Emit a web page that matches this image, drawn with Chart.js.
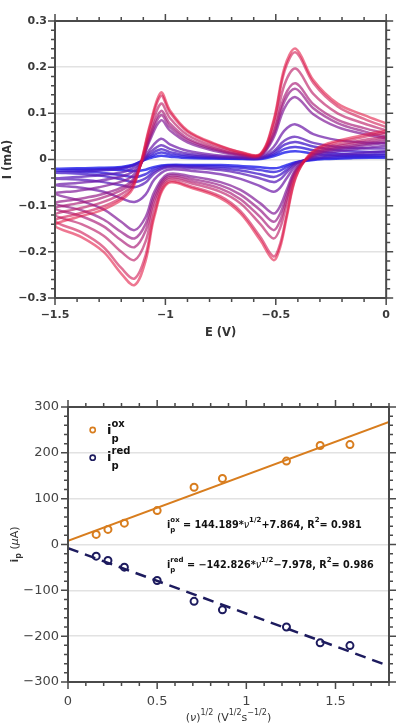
<!DOCTYPE html>
<html>
<head>
<meta charset="utf-8">
<script src="https://cdn.jsdelivr.net/npm/chart.js@4.4.0/dist/chart.umd.min.js"></script>
<style>
html, body { margin: 0; padding: 0; background: #fff; }
#wrap { position: relative; width: 401px; height: 728px; }
canvas { position: absolute; left: 0; }
#cv { top: 0; }
#fit { top: 365px; }
</style>
</head>
<body>
<div id="wrap">
  <canvas id="cv" width="401" height="365"></canvas>
  <canvas id="fit" width="401" height="363"></canvas>
</div>
<script>
// potential grid (V): cathodic sweep 0 -> -1.5, then anodic sweep back to 0
const E_FWD = [0, -0.15, -0.28, -0.35, -0.41, -0.45, -0.48, -0.51, -0.57, -0.66, -0.75, -0.88, -0.99, -1.05, -1.09, -1.14, -1.2, -1.28, -1.38, -1.5];
const E_REV = [-1.4, -1.3, -1.2, -1.15, -1.11, -1.07, -1.02, -0.98, -0.9, -0.78, -0.65, -0.57, -0.51, -0.46, -0.41, -0.33, -0.22, -0.1, 0];

// current (mA), one pair per scan rate (V/s)
const fwd_0_01 = [0.004, 0.003, 0.001, -0.002, -0.006, -0.012, -0.017, -0.019, -0.017, -0.014, -0.012, -0.012, -0.012, -0.016, -0.022, -0.025, -0.023, -0.021, -0.02, -0.02];
const rev_0_01 = [-0.019, -0.018, -0.016, -0.012, -0.004, 0.003, 0.008, 0.006, 0.003, 0.002, 0.001, 0.001, 0.007, 0.015, 0.018, 0.013, 0.008, 0.006, 0.005];
const fwd_0_025 = [0.007, 0.005, 0.003, -0.001, -0.007, -0.016, -0.024, -0.027, -0.023, -0.018, -0.015, -0.014, -0.013, -0.02, -0.032, -0.038, -0.034, -0.029, -0.026, -0.024];
const rev_0_025 = [-0.022, -0.021, -0.018, -0.013, -0.004, 0.006, 0.015, 0.011, 0.006, 0.003, 0.002, 0.002, 0.01, 0.023, 0.027, 0.02, 0.013, 0.01, 0.009];
const fwd_0_05 = [0.012, 0.009, 0.005, 0, -0.008, -0.022, -0.033, -0.038, -0.032, -0.024, -0.019, -0.016, -0.015, -0.025, -0.041, -0.049, -0.043, -0.036, -0.031, -0.028];
const rev_0_05 = [-0.026, -0.024, -0.02, -0.014, -0.004, 0.01, 0.022, 0.016, 0.009, 0.005, 0.003, 0.003, 0.014, 0.032, 0.038, 0.028, 0.02, 0.017, 0.016];
const fwd_0_1 = [0.018, 0.013, 0.008, 0.001, -0.01, -0.028, -0.043, -0.049, -0.041, -0.03, -0.023, -0.019, -0.017, -0.03, -0.05, -0.06, -0.056, -0.049, -0.044, -0.041];
const rev_0_1 = [-0.038, -0.034, -0.028, -0.02, -0.006, 0.015, 0.031, 0.023, 0.013, 0.007, 0.004, 0.004, 0.018, 0.041, 0.049, 0.036, 0.027, 0.024, 0.024];
const fwd_0_25 = [0.03, 0.022, 0.013, 0.002, -0.014, -0.04, -0.061, -0.07, -0.058, -0.042, -0.032, -0.025, -0.022, -0.043, -0.076, -0.092, -0.084, -0.07, -0.061, -0.055];
const rev_0_25 = [-0.051, -0.046, -0.037, -0.027, -0.008, 0.022, 0.045, 0.033, 0.019, 0.01, 0.005, 0.005, 0.027, 0.063, 0.076, 0.055, 0.042, 0.037, 0.035];
const fwd_0_5 = [0.036, 0.027, 0.017, 0.003, -0.021, -0.065, -0.101, -0.117, -0.095, -0.066, -0.049, -0.037, -0.032, -0.07, -0.125, -0.153, -0.135, -0.108, -0.09, -0.074];
const rev_0_5 = [-0.068, -0.06, -0.048, -0.036, -0.008, 0.042, 0.085, 0.063, 0.037, 0.019, 0.008, 0.007, 0.047, 0.112, 0.135, 0.098, 0.07, 0.055, 0.046];
const fwd_0_75 = [0.04, 0.03, 0.019, 0.004, -0.024, -0.075, -0.117, -0.135, -0.11, -0.076, -0.056, -0.042, -0.036, -0.079, -0.14, -0.171, -0.157, -0.13, -0.11, -0.095];
const rev_0_75 = [-0.086, -0.077, -0.061, -0.045, -0.01, 0.047, 0.096, 0.071, 0.042, 0.022, 0.009, 0.008, 0.053, 0.127, 0.153, 0.111, 0.079, 0.061, 0.049];
const fwd_1 = [0.045, 0.034, 0.022, 0.005, -0.027, -0.085, -0.132, -0.153, -0.125, -0.086, -0.063, -0.047, -0.04, -0.088, -0.155, -0.19, -0.175, -0.145, -0.123, -0.106];
const rev_1 = [-0.095, -0.085, -0.067, -0.05, -0.009, 0.052, 0.105, 0.078, 0.046, 0.024, 0.01, 0.009, 0.058, 0.137, 0.165, 0.12, 0.086, 0.068, 0.056];
const fwd_1_5 = [0.05, 0.038, 0.025, 0.006, -0.03, -0.095, -0.148, -0.171, -0.14, -0.095, -0.07, -0.052, -0.044, -0.1, -0.178, -0.218, -0.2, -0.165, -0.14, -0.12];
const rev_1_5 = [-0.107, -0.095, -0.075, -0.055, -0.008, 0.06, 0.121, 0.09, 0.053, 0.028, 0.012, 0.01, 0.068, 0.163, 0.197, 0.142, 0.1, 0.078, 0.063];
const fwd_2 = [0.058, 0.044, 0.029, 0.008, -0.038, -0.118, -0.182, -0.21, -0.168, -0.112, -0.08, -0.059, -0.049, -0.116, -0.208, -0.258, -0.235, -0.19, -0.158, -0.133];
const rev_2 = [-0.118, -0.105, -0.083, -0.06, -0.006, 0.07, 0.138, 0.102, 0.06, 0.033, 0.014, 0.011, 0.08, 0.192, 0.232, 0.166, 0.115, 0.088, 0.07];
const fwd_2_5 = [0.063, 0.048, 0.032, 0.01, -0.04, -0.124, -0.19, -0.218, -0.175, -0.117, -0.084, -0.062, -0.052, -0.124, -0.22, -0.272, -0.247, -0.2, -0.168, -0.143];
const rev_2_5 = [-0.125, -0.112, -0.088, -0.065, -0.005, 0.075, 0.145, 0.107, 0.063, 0.035, 0.015, 0.012, 0.085, 0.2, 0.24, 0.172, 0.121, 0.096, 0.078];

const cvFwd = [fwd_0_01, fwd_0_025, fwd_0_05, fwd_0_1, fwd_0_25, fwd_0_5, fwd_0_75, fwd_1, fwd_1_5, fwd_2, fwd_2_5];
const cvRev = [rev_0_01, rev_0_025, rev_0_05, rev_0_1, rev_0_25, rev_0_5, rev_0_75, rev_1, rev_1_5, rev_2, rev_2_5];

// peak currents vs square root of scan rate
const sqrtScan = [0.158, 0.224, 0.316, 0.5, 0.707, 0.866, 1.225, 1.414, 1.581];
const ipOx = [22, 33, 46.5, 74, 125, 144, 182, 216, 218];
const ipRed = [-25.5, -35, -49.5, -78.6, -124, -142.6, -180, -214.6, -220.5];
const oxFit = { slope: 144.189, icpt: 7.864 };
const redFit = { slope: -142.826, icpt: -7.978 };

const ORANGE = '#d87d1e';
const NAVY = '#1d1b5e';
const FONT = 'DejaVu Sans';

function fmt(v) {
  const r = Math.round(v * 1000) / 1000;
  return r < 0 ? '\u2212' + Math.abs(r) : String(r);
}

function isMajor(v, step) {
  const q = v / step;
  return Math.abs(q - Math.round(q)) < 1e-6;
}

// frame + outward tick marks on all four sides
const framePlugin = {
  id: 'frame',
  afterDraw(chart, args, o) {
    const { ctx, chartArea: a } = chart;
    const x = chart.scales.x, y = chart.scales.y;
    ctx.save();
    ctx.strokeStyle = '#4a4a4a';
    ctx.lineWidth = 1.5;
    ctx.beginPath();
    const nx = Math.round((x.max - x.min) / o.xMinor);
    for (let i = 0; i <= nx; i++) {
      const v = x.min + i * o.xMinor;
      const px = x.getPixelForValue(v);
      const len = isMajor(v, o.xMajor) ? 7 : 4;
      ctx.moveTo(px, a.bottom); ctx.lineTo(px, a.bottom + len);
      ctx.moveTo(px, a.top); ctx.lineTo(px, a.top - len);
    }
    const ny = Math.round((y.max - y.min) / o.yMinor);
    for (let i = 0; i <= ny; i++) {
      const v = y.min + i * o.yMinor;
      const py = y.getPixelForValue(v);
      const len = isMajor(v, o.yMajor) ? 7 : 4;
      ctx.moveTo(a.left, py); ctx.lineTo(a.left - len, py);
      ctx.moveTo(a.right, py); ctx.lineTo(a.right + len, py);
    }
    ctx.stroke();
    ctx.lineWidth = 2;
    ctx.strokeRect(a.left, a.top, a.right - a.left, a.bottom - a.top);
    if (o.draw) o.draw(ctx, a);
    ctx.restore();
  }
};

// text pieces in a row; a piece may carry sup/sub stacked
function measureRun(ctx, parts) {
  let w = 0;
  for (const p of parts) {
    ctx.font = p.f;
    if (p.stack) w += Math.max(ctx.measureText(p.sup).width, ctx.measureText(p.sub).width);
    else w += ctx.measureText(p.t).width;
  }
  return w;
}
function drawRun(ctx, x, y, parts) {
  ctx.textBaseline = 'middle';
  ctx.textAlign = 'left';
  for (const p of parts) {
    ctx.font = p.f;
    if (p.stack) {
      ctx.fillText(p.sup, x, y + p.up);
      ctx.fillText(p.sub, x, y + p.dn);
      x += Math.max(ctx.measureText(p.sup).width, ctx.measureText(p.sub).width);
    } else {
      ctx.fillText(p.t, x, y + (p.dy || 0));
      x += ctx.measureText(p.t).width;
    }
  }
  return x;
}

function lineColor(k, n) {
  const t = k / (n - 1);
  const r = Math.round(30 + 195 * t);
  const g = Math.round(30 - 10 * t);
  const b = Math.round(235 - 170 * t);
  const al = (0.8 - 0.22 * t).toFixed(2);
  return 'rgba(' + r + ',' + g + ',' + b + ',' + al + ')';
}

// ---------- cyclic voltammograms ----------
const cvSets = [];
for (let k = cvFwd.length - 1; k >= 0; k--) {
  const pts = E_FWD.map((e, i) => ({ x: e, y: cvFwd[k][i] }))
    .concat(E_REV.map((e, i) => ({ x: e, y: cvRev[k][i] })));
  cvSets.push({
    data: pts,
    showLine: true,
    borderColor: lineColor(k, cvFwd.length),
    borderWidth: 2.5,
    pointRadius: 0,
    tension: 0.35,
    fill: false
  });
}

const tickFontTop = { family: FONT, size: 11, weight: 'bold' };

new Chart(document.getElementById('cv').getContext('2d'), {
  type: 'scatter',
  data: { datasets: cvSets },
  options: {
    responsive: false,
    animation: false,
    devicePixelRatio: 1,
    layout: { padding: { top: 21, right: 12, left: 0, bottom: 0 } },
    plugins: {
      legend: { display: false },
      tooltip: { enabled: false },
      frame: {
        xMinor: 0.1, xMajor: 0.5, yMinor: 0.02, yMajor: 0.1,
        draw(ctx, a) {
          ctx.fillStyle = '#333';
          ctx.font = 'bold 11.5px "' + FONT + '"';
          ctx.textAlign = 'center';
          ctx.textBaseline = 'middle';
          ctx.fillText('E (V)', (a.left + a.right) / 2, 333);
          ctx.save();
          ctx.translate(8, (a.top + a.bottom) / 2);
          ctx.rotate(-Math.PI / 2);
          ctx.fillText('I (mA)', 0, 0);
          ctx.restore();
        }
      }
    },
    scales: {
      x: {
        type: 'linear', min: -1.5, max: 0,
        afterFit(s) { s.height = 67; },
        grid: { display: false, drawTicks: false },
        border: { display: false },
        ticks: { stepSize: 0.5, padding: 11, color: '#3a3a3a', font: tickFontTop, callback: fmt }
      },
      y: {
        min: -0.3, max: 0.3,
        afterFit(s) { s.width = 55; },
        grid: { color: '#e2e2e2', lineWidth: 1.6, drawTicks: false },
        border: { display: false },
        ticks: { stepSize: 0.1, padding: 8, color: '#3a3a3a', font: tickFontTop, callback: fmt }
      }
    }
  },
  plugins: [framePlugin]
});

// ---------- peak current vs sqrt(scan rate) ----------
const tickFontBot = { family: FONT, size: 13 };
const XMAX = 1.8;

new Chart(document.getElementById('fit').getContext('2d'), {
  type: 'scatter',
  data: {
    datasets: [
      {
        data: sqrtScan.map((v, i) => ({ x: v, y: ipOx[i] })),
        borderColor: ORANGE, backgroundColor: 'rgba(0,0,0,0)',
        pointRadius: 3.5, pointBorderWidth: 2, showLine: false
      },
      {
        data: sqrtScan.map((v, i) => ({ x: v, y: ipRed[i] })),
        borderColor: NAVY, backgroundColor: 'rgba(0,0,0,0)',
        pointRadius: 3.5, pointBorderWidth: 2, showLine: false
      },
      {
        data: [{ x: 0, y: oxFit.icpt }, { x: XMAX, y: oxFit.slope * XMAX + oxFit.icpt }],
        borderColor: ORANGE, borderWidth: 2, pointRadius: 0, showLine: true
      },
      {
        data: [{ x: 0, y: redFit.icpt }, { x: XMAX, y: redFit.slope * XMAX + redFit.icpt }],
        borderColor: NAVY, borderWidth: 2.5, borderDash: [11, 7], pointRadius: 0, showLine: true
      }
    ]
  },
  options: {
    responsive: false,
    animation: false,
    devicePixelRatio: 1,
    layout: { padding: { top: 42, right: 12, left: 0, bottom: 0 } },
    plugins: {
      legend: { display: false },
      tooltip: { enabled: false },
      frame: {
        xMinor: 0.1, xMajor: 0.5, yMinor: 20, yMajor: 100,
        draw(ctx, a) {
          const B = 'bold 9.7px "' + FONT + '"';
          const S = 'bold 7px "' + FONT + '"';
          const NU = 'italic 9.7px "' + FONT + '"';
          // legend
          ctx.lineWidth = 1.6;
          ctx.strokeStyle = ORANGE;
          ctx.beginPath(); ctx.arc(92.7, 65, 2.6, 0, Math.PI * 2); ctx.stroke();
          ctx.strokeStyle = NAVY;
          ctx.beginPath(); ctx.arc(92.7, 92.7, 2.6, 0, Math.PI * 2); ctx.stroke();
          ctx.fillStyle = '#111';
          const LI = 'bold 13px "' + FONT + '"';
          const LS = 'bold 10px "' + FONT + '"';
          drawRun(ctx, 107, 66, [{ t: 'i', f: LI }, { stack: true, sup: 'ox', sub: 'p', up: -7, dn: 8, f: LS }]);
          drawRun(ctx, 107, 93, [{ t: 'i', f: LI }, { stack: true, sup: 'red', sub: 'p', up: -7, dn: 8, f: LS }]);
          // fit equations
          drawRun(ctx, 167, 160, [
            { t: 'i', f: B }, { stack: true, sup: 'ox', sub: 'p', up: -5, dn: 5, f: S },
            { t: ' = 144.189*', f: B }, { t: '\u03bd', f: NU }, { t: '1/2', f: S, dy: -5 },
            { t: '+7.864, R', f: B }, { t: '2', f: S, dy: -5 }, { t: '= 0.981', f: B }
          ]);
          drawRun(ctx, 167, 200.5, [
            { t: 'i', f: B }, { stack: true, sup: 'red', sub: 'p', up: -5, dn: 5, f: S },
            { t: ' = \u2212142.826*', f: B }, { t: '\u03bd', f: NU }, { t: '1/2', f: S, dy: -5 },
            { t: '\u22127.978, R', f: B }, { t: '2', f: S, dy: -5 }, { t: '= 0.986', f: B }
          ]);
          // axis titles
          ctx.fillStyle = '#333';
          const T = '11px "' + FONT + '"';
          const TS = '8px "' + FONT + '"';
          const TI = 'italic 11px "' + FONT + '"';
          const xt = [
            { t: '(', f: T }, { t: '\u03bd', f: TI }, { t: ')', f: T }, { t: '1/2', f: TS, dy: -5 },
            { t: ' (V', f: T }, { t: '1/2', f: TS, dy: -5 }, { t: 's', f: T }, { t: '\u22121/2', f: TS, dy: -5 }, { t: ')', f: T }
          ];
          const wx = measureRun(ctx, xt);
          drawRun(ctx, (a.left + a.right) / 2 - wx / 2, 353, xt);
          const yt = [
            { t: 'i', f: 'bold 11px "' + FONT + '"' }, { t: 'p', f: 'bold 8px "' + FONT + '"', dy: 4 },
            { t: ' (', f: T }, { t: '\u03bc', f: TI }, { t: 'A)', f: T }
          ];
          const wy = measureRun(ctx, yt);
          ctx.save();
          ctx.translate(15, (a.top + a.bottom) / 2);
          ctx.rotate(-Math.PI / 2);
          drawRun(ctx, -wy / 2, 0, yt);
          ctx.restore();
        }
      }
    },
    scales: {
      x: {
        type: 'linear', min: 0, max: XMAX,
        afterFit(s) { s.height = 46; },
        grid: { display: false, drawTicks: false },
        border: { display: false },
        ticks: { stepSize: 0.5, includeBounds: false, padding: 12, color: '#444', font: tickFontBot, callback: fmt }
      },
      y: {
        min: -300, max: 300,
        afterFit(s) { s.width = 68; },
        grid: { color: '#e2e2e2', lineWidth: 1.6, drawTicks: false },
        border: { display: false },
        ticks: { stepSize: 100, padding: 9, color: '#444', font: tickFontBot, callback: fmt }
      }
    }
  },
  plugins: [framePlugin]
});
</script>
</body>
</html>
